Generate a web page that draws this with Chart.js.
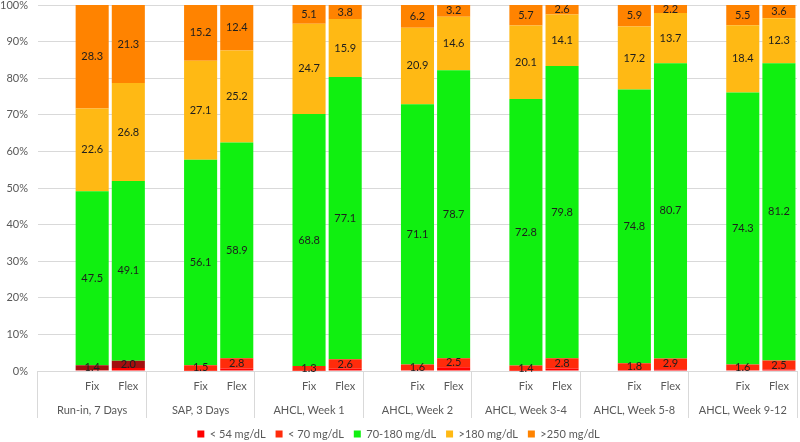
<!DOCTYPE html>
<html><head><meta charset="utf-8">
<script src="https://cdn.jsdelivr.net/npm/chart.js@4.4.0/dist/chart.umd.min.js"></script>
<style>html,body{margin:0;padding:0;background:#fff;}</style>
</head><body>
<canvas id="c" width="800" height="442"></canvas>
<script>
// ---- data ----
const groups = ['Run-in, 7 Days','SAP, 3 Days','AHCL, Week 1','AHCL, Week 2','AHCL, Week 3-4','AHCL, Week 5-8','AHCL, Week 9-12'];
const arms = ['Fix','Flex'];
const yTickLabels = ['0%','10%','20%','30%','40%','50%','60%','70%','80%','90%','100%'];
const seriesNames = ['< 54 mg/dL','< 70 mg/dL','70-180 mg/dL','>180 mg/dL','>250 mg/dL'];

const lt54Fix   = [0.2, 0.1, 0.1, 0.2, 0.1, 0.3, 0.2];
const lt54Flex  = [0.8, 0.7, 0.6, 1.0, 0.7, 0.5, 0.4];
const lt70Fix   = [1.4, 1.5, 1.3, 1.6, 1.4, 1.8, 1.6];
const lt70Flex  = [2.0, 2.8, 2.6, 2.5, 2.8, 2.9, 2.5];
const tirFix    = [47.5, 56.1, 68.8, 71.1, 72.8, 74.8, 74.3];
const tirFlex   = [49.1, 58.9, 77.1, 78.7, 79.8, 80.7, 81.2];
const gt180Fix  = [22.6, 27.1, 24.7, 20.9, 20.1, 17.2, 18.4];
const gt180Flex = [26.8, 25.2, 15.9, 14.6, 14.1, 13.7, 12.3];
const gt250Fix  = [28.3, 15.2, 5.1, 6.2, 5.7, 5.9, 5.5];
const gt250Flex = [21.3, 12.4, 3.8, 3.2, 2.6, 2.2, 3.6];

// ---- build slot table (blank slot, Fix, Flex per group) ----
const slotLabels = [];
groups.forEach(() => { slotLabels.push(''); arms.forEach(a => slotLabels.push(a)); });
function slots(fix, flex) {
  const out = [];
  groups.forEach((g, i) => { out.push(null, fix[i], flex[i]); });
  return out;
}

const FONT = 'Lato';
const GRID = '#D9D9D9';
const TXT = '#595959';
const CLEAR = 'rgba(0,0,0,0)';
const C_LT54 = '#FF0000';
const C_LT70 = '#FF2B0B';
const C_LT70_RUNIN = '#A30F0F';

const valueLabels = {
  id: 'valueLabels',
  afterDatasetsDraw(chart) {
    const ctx = chart.ctx;
    ctx.save();
    ctx.font = '11px ' + FONT;
    ctx.fillStyle = '#1e1e1e';
    ctx.textAlign = 'center';
    ctx.textBaseline = 'middle';
    chart.data.datasets.forEach((ds, di) => {
      if (!ds.showValues) return;
      const meta = chart.getDatasetMeta(di);
      meta.data.forEach((el, i) => {
        const v = ds.data[i];
        if (v == null) return;
        const p = el.getCenterPoint();
        ctx.fillText(v.toFixed(1), p.x, p.y);
      });
    });
    ctx.restore();
  }
};

function groupLine(ctx) {
  if (ctx.type === 'scale') return GRID;
  return (ctx.index % 3 === 0) ? GRID : CLEAR;
}

new Chart(document.getElementById('c'), {
  type: 'bar',
  data: {
    labels: slotLabels,
    datasets: [
      { label: seriesNames[0], data: slots(lt54Fix, lt54Flex), backgroundColor: C_LT54, showValues: false },
      { label: seriesNames[1], data: slots(lt70Fix, lt70Flex), showValues: true,
        backgroundColor: (c) => (c.type === 'data' && c.dataIndex < 3) ? C_LT70_RUNIN : C_LT70 },
      { label: seriesNames[2], data: slots(tirFix, tirFlex), backgroundColor: '#10F010', showValues: true },
      { label: seriesNames[3], data: slots(gt180Fix, gt180Flex), backgroundColor: '#FFB914', showValues: true },
      { label: seriesNames[4], data: slots(gt250Fix, gt250Flex), backgroundColor: '#FF8300', showValues: true }
    ]
  },
  options: {
    responsive: false,
    animation: false,
    layout: { padding: { top: 0, left: 0, right: 3, bottom: -7.5 } },
    datasets: { bar: { barPercentage: 0.915, categoryPercentage: 1.0, borderWidth: 0 } },
    plugins: {
      tooltip: { enabled: false },
      legend: {
        position: 'bottom',
        labels: {
          boxWidth: 7, boxHeight: 7, padding: 10, color: TXT, font: { family: FONT, size: 11 },
          generateLabels: (chart) => Chart.defaults.plugins.legend.labels.generateLabels(chart).map((it, i) => {
            if (i === 1) { it.fillStyle = C_LT70; it.strokeStyle = C_LT70; }
            return it;
          })
        }
      }
    },
    scales: {
      x: {
        stacked: true,
        offset: true,
        weight: 0,
        border: { display: false },
        grid: { offset: true, drawOnChartArea: false, drawTicks: true, tickLength: 47, color: groupLine },
        ticks: { autoSkip: false, maxRotation: 0, mirror: true, padding: -21.6, color: TXT, font: { family: FONT, size: 11 } }
      },
      x2: {
        type: 'category',
        labels: groups,
        position: 'bottom',
        offset: true,
        weight: 1,
        border: { display: false },
        grid: { offset: true, drawOnChartArea: false, drawTicks: true, tickLength: 127.3, color: CLEAR, tickColor: CLEAR },
        ticks: { autoSkip: false, maxRotation: 0, mirror: true, padding: -41.8, color: TXT, font: { family: FONT, size: 11 } }
      },
      y: {
        stacked: true,
        min: 0, max: 100,
        border: { display: false },
        grid: { color: GRID, drawTicks: true, tickLength: 10, tickColor: CLEAR },
        ticks: { stepSize: 10, padding: 0, color: TXT, font: { family: FONT, size: 11 },
                 callback: (v, i) => yTickLabels[i] },
        afterFit: (s) => { s.paddingTop = 5; }
      }
    }
  },
  plugins: [valueLabels]
});
</script>
</body></html>
